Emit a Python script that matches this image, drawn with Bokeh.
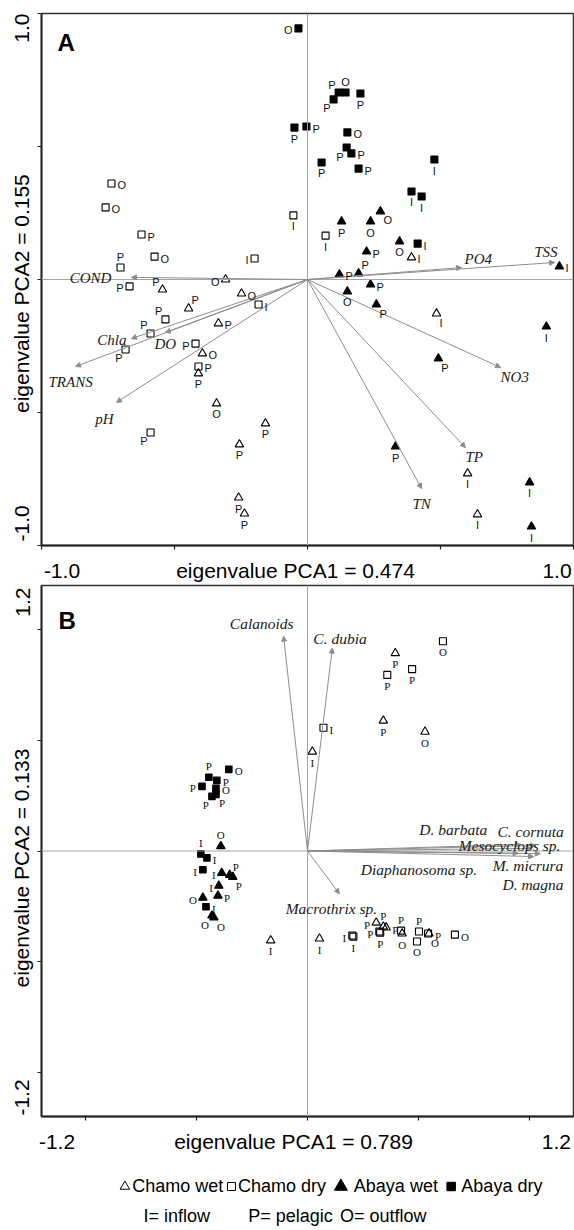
from math import pi
from bokeh.plotting import figure
from bokeh.models import (Arrow, NormalHead, Label, Span, FixedTicker, Range1d,
                          ColumnDataSource, CustomJSTickFormatter)
from bokeh.core.properties import value
from bokeh.layouts import column
from bokeh.embed import file_html
from bokeh.resources import INLINE

# ------------------------------------------------------------------ data
TICKS = [-1.0, -0.5, 0.0, 0.5, 1.0]

# ---- Panel A (environmental variables) ----
A_cw_x = [-0.308, -0.545, -0.248, -0.447, -0.335, -0.395, -0.410, -0.342, -0.158, -0.256, -0.259, -0.237, 0.391, 0.485, 0.602, 0.639]
A_cw_y = [0.000, -0.038, -0.053, -0.109, -0.165, -0.278, -0.353, -0.466, -0.541, -0.620, -0.820, -0.880, 0.083, -0.128, -0.729, -0.883]
A_cw_site = ["O", "P", "O", "P", "P", "O", "P", "O", "P", "P", "P", "P", "I", "I", "I", "I"]

A_cd_x = [-0.737, -0.759, -0.624, -0.575, -0.199, -0.703, -0.053, 0.068, -0.669, -0.184, -0.534, -0.590, -0.421, -0.684, -0.410, -0.590]
A_cd_y = [0.361, 0.271, 0.169, 0.086, 0.079, 0.045, 0.241, 0.165, -0.026, -0.094, -0.150, -0.203, -0.241, -0.263, -0.327, -0.575]
A_cd_site = ["O", "O", "P", "O", "I", "P", "I", "I", "P", "I", "P", "P", "P", "P", "P", "P"]

A_aw_x = [0.274, 0.237, 0.128, 0.346, 0.222, 0.120, 0.192, 0.237, 0.947, 0.150, 0.259, 0.898, 0.492, 0.331, 0.835, 0.842]
A_aw_y = [0.256, 0.218, 0.218, 0.143, 0.105, 0.019, 0.023, -0.019, 0.049, -0.045, -0.094, -0.177, -0.297, -0.628, -0.763, -0.929]
A_aw_site = ["O", "O", "P", "O", "P", "P", "P", "P", "I", "O", "P", "I", "P", "P", "I", "I"]

A_ad_x = [-0.034, 0.098, 0.117, 0.143, 0.199, -0.049, -0.004, 0.150, 0.147, 0.165, 0.053, 0.192, 0.477, 0.391, 0.429, 0.414]
A_ad_y = [0.944, 0.677, 0.703, 0.703, 0.699, 0.571, 0.575, 0.553, 0.496, 0.474, 0.440, 0.417, 0.451, 0.331, 0.312, 0.135]
A_ad_site = ["O", "P", "P", "O", "P", "P", "P", "O", "P", "P", "P", "P", "I", "I", "I", "I"]

A_vec_names = ["TSS", "PO4", "COND", "Chla", "DO", "TRANS", "pH", "NO3", "TP", "TN"]
A_vec_x = [0.929, 0.579, -0.662, -0.662, -0.534, -0.872, -0.718, 0.726, 0.594, 0.429]
A_vec_y = [0.064, 0.045, 0.008, -0.222, -0.199, -0.327, -0.462, -0.331, -0.632, -0.786]

A_x_texts = ["-1.0", "eigenvalue PCA1 = 0.474", "1.0"]
A_y_texts = ["-1.0", "eigenvalue PCA2 = 0.155", "1.0"]

# ---- Panel B (zooplankton taxa) ----
B_cw_x = [0.396, 0.342, 0.530, 0.022, -0.166, 0.054, 0.310, 0.342, 0.355, 0.427, 0.548]
B_cw_y = [0.894, 0.589, 0.539, 0.449, -0.404, -0.396, -0.324, -0.342, -0.346, -0.373, -0.373]
B_cw_site = ["P", "P", "O", "I", "I", "I", "P", "P", "P", "O", "P"]

B_cd_x = [0.611, 0.360, 0.472, 0.072, 0.202, 0.207, 0.324, 0.328, 0.422, 0.503, 0.494, 0.544, 0.665]
B_cd_y = [0.948, 0.796, 0.822, 0.557, -0.382, -0.387, -0.364, -0.369, -0.360, -0.364, -0.409, -0.373, -0.378]
B_cd_site = ["O", "P", "P", "I", "I", "I", "P", "P", "P", "P", "O", "O", "O"]

B_aw_x = [-0.391, -0.387, -0.351, -0.337, -0.400, -0.472, -0.404, -0.431, -0.422]
B_aw_y = [0.022, -0.099, -0.108, -0.117, -0.157, -0.211, -0.202, -0.292, -0.301]
B_aw_site = ["O", "I", "P", "P", "I", "O", "P", "O", "O"]

B_ad_x = [-0.355, -0.445, -0.409, -0.476, -0.413, -0.431, -0.413, -0.481, -0.454, -0.472, -0.458]
B_ad_y = [0.369, 0.333, 0.319, 0.292, 0.283, 0.247, 0.256, -0.013, -0.031, -0.085, -0.252]
B_ad_site = ["O", "P", "P", "P", "O", "P", "P", "I", "I", "I", "I"]

B_vec_names = ["Calanoids", "C. dubia", "D. barbata", "C. cornuta", "Mesocyclops sp.",
               "M. micrura", "D. magna", "Diaphanosoma sp.", "Macrothrix sp."]
B_vec_x = [-0.108, 0.112, 0.96, 1.03, 1.01, 1.05, 1.02, 0.95, 0.144]
B_vec_y = [0.971, 0.917, 0.030, 0.025, 0.012, -0.012, -0.025, -0.010, -0.193]

B_x_texts = ["-1.2", "eigenvalue PCA1 = 0.789", "1.2"]
B_y_texts = ["-1.2", "eigenvalue PCA2 = 0.133", "1.2"]

LEGEND_SERIES = ["Chamo wet", "Chamo dry", "Abaya wet", "Abaya dry"]
SITE_KEYS = ["I= inflow", "P= pelagic", "O= outflow"]

# ------------------------------------------------------------------ styling / placement (not data)
A_cw_pos = ["l", "al", "r", "ar", "r", "r", "b", "b", "b", "b", "b", "b", "r", "br", "b", "b"]
A_cd_pos = ["r", "r", "r", "r", "l", "a", "b", "b", "l", "r", "al", "al", "l", "bl", "r", "bl"]
A_aw_pos = ["br", "b", "b", "b", "r", "r", "ar", "r", "r", "b", "br", "b", "br", "b", "b", "b"]
A_ad_pos = ["l", "bl", "al", "a", "b", "b", "r", "r", "bl", "r", "b", "r", "b", "b", "b", "r"]
B_cw_pos = ["b", "b", "b", "b", "b", "b", "l", "a", "r", "b", "r"]
B_cd_pos = ["b", "b", "b", "r", "l", "b", "l", "b", "a", "a", "b", "br", "r"]
B_aw_pos = ["a", "l", "ar", "br", "l", "l", "r", "bl", "br"]
B_ad_pos = ["r", "a", "r", "l", "r", "bl", "br", "a", "r", "l", "r"]

# (align, baseline, dx, dy) for vector labels, offsets in px from arrow tip (dy up)
A_vec_lab = [("right", "bottom", 3, 2), ("left", "bottom", 3, 1), ("right", "middle", -20, -1),
             ("right", "middle", -5, -1), ("left", "top", -11, -4), ("center", "top", -5, -8),
             ("right", "top", -3, -9), ("left", "top", 0, -1), ("left", "top", 0, -1),
             ("center", "top", 0, -7)]
B_vec_lab = [("right", "bottom", 10, 4), ("left", "bottom", -19, 1), ("right", "bottom", -33, 6),
             ("right", "bottom", 28, 5), ("right", "bottom", 29, -6), ("right", "top", 23, -3),
             ("right", "top", 30, -19), ("right", "top", -41, -8), ("center", "top", -8, -6)]

# where the axis texts are centred (axis units): end labels kept inside the frame ends
A_xlab_at = [-0.923, -0.045, 0.938]
A_ylab_at = [-0.917, -0.053, 0.945]
B_xlab_at = [-1.130, -0.063, 1.123]
B_ylab_at = [-1.114, -0.077, 1.125]

PLACE = {
    "r": ("left", "middle", 6, -2),
    "l": ("right", "middle", -6, -2),
    "a": ("center", "bottom", 0, 5),
    "b": ("center", "top", 0, -5),
    "ar": ("left", "bottom", 3, 2),
    "al": ("right", "bottom", -3, 2),
    "br": ("left", "top", 3, -3),
    "bl": ("right", "top", -3, -3),
}

SANS = "Liberation Sans"
SERIF = "Liberation Serif"
GRAY = "#8e8e8e"
INK = "#111111"


def put(p, x, y, text, dx=0, dy=0, align="left", base="middle", font=SANS, size="11px",
        style="normal", angle=0.0, color=INK):
    p.add_layout(Label(x=x, y=y, x_offset=dx, y_offset=dy, text=text, text_align=align,
                       text_baseline=base, text_font=font, text_font_size=size,
                       text_font_style=style, angle=angle, text_color=color))


def style_axis(ax, label_at, texts, standoff, orient):
    ax.ticker = FixedTicker(ticks=label_at, minor_ticks=TICKS)
    ax.formatter = CustomJSTickFormatter(args=dict(labels=texts), code="return labels[index];")
    ax.major_label_text_font = SANS
    ax.major_label_text_font_size = "21px"
    ax.major_label_text_color = "black"
    ax.major_label_orientation = orient
    ax.major_label_standoff = standoff
    ax.axis_line_color = "#222222"
    ax.axis_line_width = 1.8
    ax.major_tick_out = 0
    ax.major_tick_in = 0
    ax.minor_tick_out = 4
    ax.minor_tick_in = 0
    ax.minor_tick_line_color = "#222222"
    ax.minor_tick_line_width = 1.2


def make_fig(h, lim, top, bottom, xl_at, xl, yl_at, yl):
    p = figure(width=574, height=h, x_range=Range1d(-lim, lim), y_range=Range1d(-lim, lim),
               output_backend="svg", toolbar_location=None,
               min_border_left=41, min_border_right=1, min_border_top=top, min_border_bottom=bottom)
    p.grid.visible = False
    p.background_fill_color = "white"
    p.border_fill_color = "white"
    p.outline_line_color = "#333333"
    p.outline_line_width = 1.5
    style_axis(p.xaxis[0], xl_at, xl, 9, "horizontal")
    style_axis(p.yaxis[0], yl_at, yl, 4, "vertical")
    p.add_layout(Span(location=0, dimension="height", line_color="#a5a5a5", line_width=1))
    p.add_layout(Span(location=0, dimension="width", line_color="#a5a5a5", line_width=1))
    return p


def add_vectors(p, xs, ys, names, labs, size):
    src = ColumnDataSource(dict(x0=[0.0] * len(xs), y0=[0.0] * len(xs), x1=xs, y1=ys))
    p.add_layout(Arrow(end=NormalHead(size=5, fill_color=GRAY, line_color=GRAY, line_width=1),
                       source=src, x_start="x0", y_start="y0", x_end="x1", y_end="y1",
                       line_color=GRAY, line_width=1))
    for x, y, n, (al, bl, dx, dy) in zip(xs, ys, names, labs):
        put(p, x, y, n, dx, dy, al, bl, font=SERIF, size=size, style="italic", color="#1a1a1a")


def add_points(p, xs, ys, sites, poss, marker, filled, msize, font, fsize):
    p.scatter(xs, ys, marker=marker, size=msize, line_color="black", line_width=1.1,
              fill_color="black" if filled else None, fill_alpha=1.0 if filled else 0.0)
    for x, y, s, ps in zip(xs, ys, sites, poss):
        al, bl, dx, dy = PLACE[ps]
        put(p, x, y, s, dx, dy, al, bl, font=font, size=fsize)


# ------------------------------------------------------------------ Panel A
pA = make_fig(584, 1.0, 13, 39, A_xlab_at, A_x_texts, A_ylab_at, A_y_texts)
add_vectors(pA, A_vec_x, A_vec_y, A_vec_names, A_vec_lab, "15px")
add_points(pA, A_cw_x, A_cw_y, A_cw_site, A_cw_pos, "triangle", False, 8.5, SANS, "11px")
add_points(pA, A_cd_x, A_cd_y, A_cd_site, A_cd_pos, "square", False, 7, SANS, "11px")
add_points(pA, A_aw_x, A_aw_y, A_aw_site, A_aw_pos, "triangle", True, 8.5, SANS, "11px")
add_points(pA, A_ad_x, A_ad_y, A_ad_site, A_ad_pos, "square", True, 7, SANS, "11px")
put(pA, -1.0, 1.0, "A", 16, -29, "left", "alphabetic", size="24px", style="bold", color="black")

# ------------------------------------------------------------------ Panel B
pB = make_fig(571, 1.2, 1, 38, B_xlab_at, B_x_texts, B_ylab_at, B_y_texts)
add_vectors(pB, B_vec_x, B_vec_y, B_vec_names, B_vec_lab, "15.5px")
add_points(pB, B_cw_x, B_cw_y, B_cw_site, B_cw_pos, "triangle", False, 8.5, SERIF, "11px")
add_points(pB, B_cd_x, B_cd_y, B_cd_site, B_cd_pos, "square", False, 7, SERIF, "11px")
add_points(pB, B_aw_x, B_aw_y, B_aw_site, B_aw_pos, "triangle", True, 8.5, SERIF, "11px")
add_points(pB, B_ad_x, B_ad_y, B_ad_site, B_ad_pos, "square", True, 6.5, SERIF, "11px")
put(pB, -1.2, 1.2, "B", 17, -35, "left", "alphabetic", size="24px", style="bold", color="black")

# ------------------------------------------------------------------ legend strip
pL = figure(width=574, height=75, x_range=Range1d(0, 574), y_range=Range1d(75, 0),
            output_backend="svg", toolbar_location=None, min_border=0,
            x_axis_location=None, y_axis_location=None)
pL.grid.visible = False
pL.outline_line_color = None
sym_x = [90, 205, 323, 442]
sym_m = ["triangle", "square", "triangle", "square"]
sym_fill = [False, False, True, True]
sym_size = [9.5, 8, 13, 8.5]
txt_x = [98, 212, 337, 453]
for m, f, sx, sz in zip(sym_m, sym_fill, sym_x, sym_size):
    pL.scatter([sx], [31], marker=m, size=sz, line_color="black", line_width=1,
               fill_color="black" if f else None, fill_alpha=1.0 if f else 0.0)
pL.text(txt_x, [30] * 4, text=LEGEND_SERIES, text_font=value(SANS), text_font_size="18px",
        text_baseline="middle", text_align="left", text_color="black")
pL.text([110, 223, 322], [60] * 3, text=SITE_KEYS, text_font=value(SANS), text_font_size="18px",
        text_baseline="middle", text_align="left", text_color="black")

layout = column(pA, pB, pL)
open("out.html", "w").write(file_html(layout, INLINE))
